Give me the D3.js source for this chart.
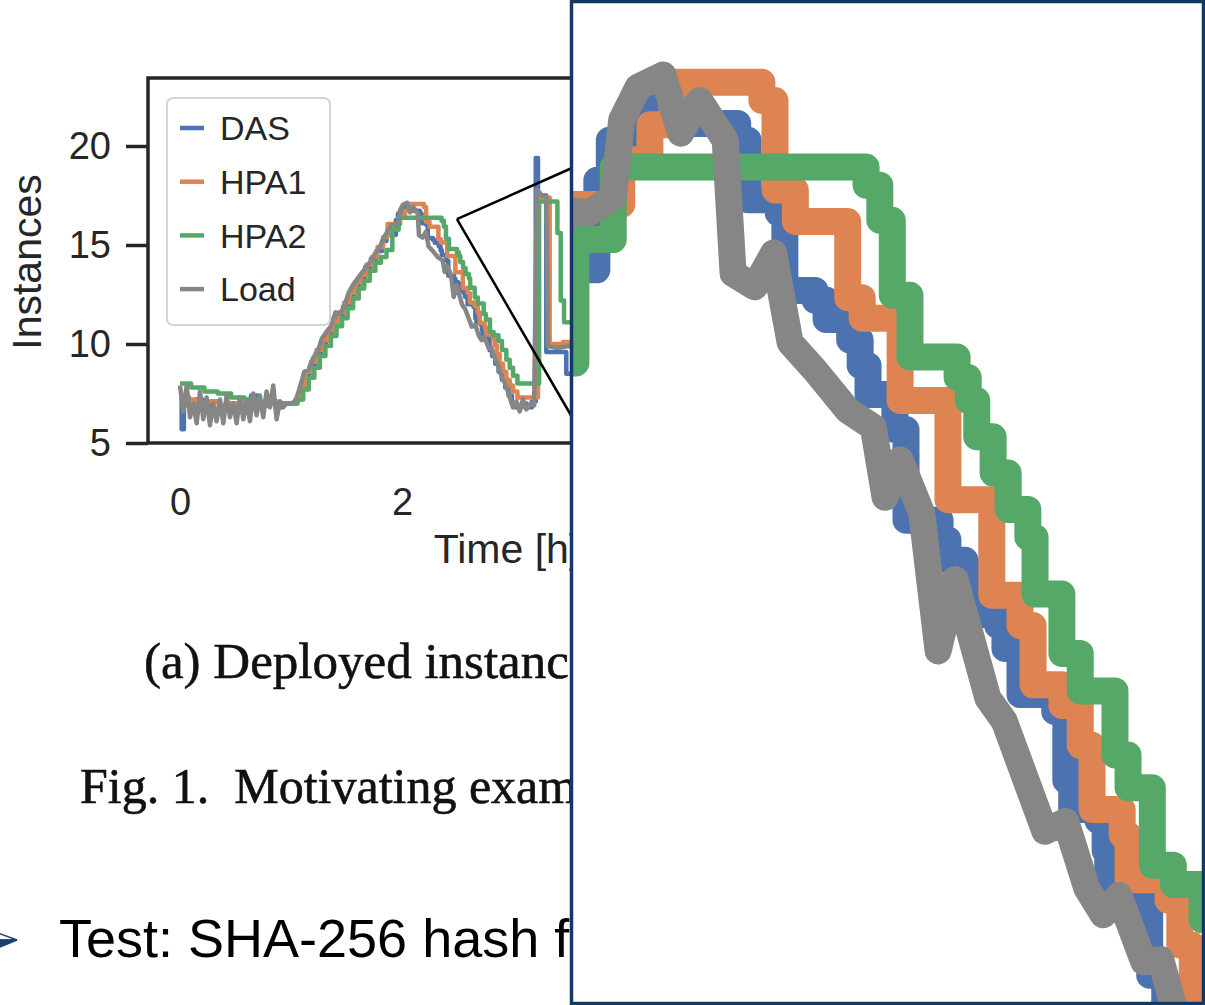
<!DOCTYPE html>
<html>
<head>
<meta charset="utf-8">
<script src="https://cdn.jsdelivr.net/npm/d3@7"></script>
<style>
body { margin: 0; background: #fff; }
svg { display: block; }
</style>
</head>
<body>
<script>
var width = 1205,
    height = 1005;

// series: [time in hours, instances]
var seriesNames = ['DAS', 'HPA1', 'HPA2', 'Load'];
var seriesColors = ['#4c72b0', '#dd8452', '#55a868', '#868686'];
var yTicks = [5, 10, 15, 20];
var xTicks = [0, 2, 4, 6];

var dasData = [
    [0.00, 7.4], [0.015, 5.7], [0.035, 7.3], [0.08, 6.9], [0.14, 7.2], [0.20, 6.8], [0.28, 7.1], [0.36, 6.8],
    [0.44, 7.0], [0.52, 6.7], [0.58, 7.0], [0.64, 7.4], [0.70, 6.9], [0.78, 7.1], [0.86, 6.8], [0.92, 7.0], [1.04, 7.2],
    [1.08, 7.8], [1.12, 8.5], [1.17, 8.9], [1.22, 9.5], [1.27, 10.1], [1.32, 10.6], [1.37, 11.0], [1.42, 11.5],
    [1.47, 11.9], [1.52, 12.5], [1.57, 13.0], [1.62, 13.4], [1.67, 13.9], [1.72, 14.3], [1.77, 14.7], [1.82, 15.2], [1.86, 15.52],
    [1.945, 16.26], [1.964, 16.59], [2.011, 16.88], [2.092, 16.73], [2.160, 16.59], [2.176, 16.10], [2.222, 15.99],
    [2.232, 15.35], [2.278, 15.27], [2.295, 15.11], [2.331, 14.94], [2.347, 14.73], [2.359, 14.49], [2.400, 14.20],
    [2.417, 13.45], [2.469, 13.29], [2.481, 13.12], [2.507, 13.02], [2.530, 12.67], [2.557, 12.58], [2.568, 12.39],
    [2.591, 12.01], [2.644, 11.87], [2.661, 11.30], [2.670, 11.06], [2.710, 10.97], [2.721, 10.72], [2.725, 10.44],
    [2.774, 10.31], [2.789, 9.69], [2.812, 9.40],
    [2.84, 9.0], [2.87, 8.6], [2.90, 8.2], [2.93, 7.8], [2.96, 7.4], [2.99, 7.0], [3.02, 6.8], [3.08, 7.0], [3.12, 6.8],
    [3.17, 7.1], [3.205, 19.4], [3.225, 17.5], [3.30, 9.6], [3.48, 8.5], [3.60, 8.3]
];

var hpa1Data = [
    [0.00, 7.3], [0.03, 6.9], [0.07, 7.2], [0.15, 6.9], [0.25, 7.1], [0.35, 6.9], [0.45, 7.0], [0.60, 7.0],
    [0.75, 7.1], [0.90, 7.0], [1.05, 7.2],
    [1.09, 7.9], [1.13, 8.6], [1.18, 9.1], [1.23, 9.7], [1.28, 10.2], [1.33, 10.7], [1.38, 11.1], [1.43, 11.6],
    [1.48, 12.1], [1.53, 12.6], [1.58, 13.1], [1.63, 13.5], [1.68, 14.0], [1.73, 14.4], [1.78, 14.9], [1.83, 15.4], [1.87, 16.06],
    [1.983, 16.43], [2.026, 16.72], [2.060, 17.07], [2.197, 16.92], [2.217, 16.18], [2.248, 15.92], [2.328, 15.29],
    [2.350, 15.12], [2.408, 14.44], [2.481, 13.62], [2.548, 12.83], [2.591, 12.58], [2.611, 12.09], [2.655, 11.92],
    [2.683, 11.59], [2.701, 11.06], [2.747, 10.85], [2.756, 10.48], [2.817, 10.31], [2.835, 9.94], [2.854, 9.49],
    [2.88, 9.0], [2.91, 8.6], [2.94, 8.2], [2.97, 7.9], [3.00, 7.6], [3.04, 7.3], [3.225, 17.4], [3.33, 10.0],
    [3.45, 10.1], [3.60, 10.0]
];

var hpa2Data = [
    [0.00, 8.0], [0.10, 7.8], [0.22, 7.6], [0.34, 7.5], [0.46, 7.3], [0.58, 7.2], [0.70, 7.0], [1.06, 7.2],
    [1.11, 7.7], [1.16, 8.3], [1.21, 8.8], [1.26, 9.4], [1.31, 9.9], [1.36, 10.4], [1.41, 10.9], [1.46, 11.3],
    [1.51, 11.8], [1.56, 12.3], [1.61, 12.8], [1.66, 13.2], [1.71, 13.7], [1.76, 14.1], [1.81, 14.4], [1.86, 14.75],
    [1.913, 15.77], [1.970, 16.37], [2.356, 16.22], [2.377, 15.93], [2.396, 15.31], [2.423, 14.80], [2.495, 14.63],
    [2.512, 14.44], [2.525, 14.14], [2.550, 13.84], [2.573, 13.54], [2.603, 13.31], [2.614, 12.84], [2.655, 12.35],
    [2.683, 12.04], [2.736, 11.51], [2.756, 11.24], [2.793, 10.60], [2.825, 10.44], [2.869, 10.15],
    [2.90, 9.7], [2.94, 9.2], [2.97, 8.8], [3.00, 8.4], [3.04, 8.0], [3.235, 17.2], [3.40, 15.6], [3.43, 12.2],
    [3.46, 11.1], [3.60, 10.9]
];

var loadData = [
    [0.00, 7.9], [0.03, 6.6], [0.06, 7.9], [0.09, 6.3], [0.12, 7.0], [0.15, 6.0], [0.18, 7.6], [0.21, 6.2],
    [0.24, 7.3], [0.27, 5.9], [0.30, 7.0], [0.33, 6.1], [0.36, 7.2], [0.39, 6.0], [0.42, 7.4], [0.45, 6.3],
    [0.48, 7.0], [0.51, 6.0], [0.54, 7.3], [0.57, 6.2], [0.60, 7.1], [0.63, 6.1], [0.66, 7.5], [0.69, 6.4],
    [0.72, 7.4], [0.75, 6.3], [0.78, 7.6], [0.81, 6.8], [0.84, 7.9], [0.87, 6.2], [0.90, 7.1], [0.93, 6.8],
    [0.96, 7.0], [1.00, 7.0], [1.04, 7.1],
    [1.08, 7.8], [1.12, 8.6], [1.16, 8.7], [1.20, 9.3], [1.24, 9.6], [1.28, 10.3], [1.32, 10.6], [1.36, 10.9],
    [1.40, 11.6], [1.44, 11.5], [1.48, 11.9], [1.52, 12.6], [1.56, 13.0], [1.60, 13.3], [1.64, 13.6], [1.68, 13.9],
    [1.72, 14.2], [1.76, 14.6], [1.80, 14.9], [1.84, 15.4], [1.88, 15.8],
    [1.907, 16.01], [1.933, 15.99], [1.970, 16.12], [1.983, 16.76], [2.008, 17.03], [2.046, 17.13], [2.073, 16.65],
    [2.102, 16.92], [2.141, 16.59], [2.153, 15.49], [2.186, 15.38], [2.215, 15.66], [2.240, 14.92], [2.278, 14.69],
    [2.328, 14.36], [2.367, 14.22], [2.385, 13.64], [2.408, 13.95], [2.441, 13.51], [2.466, 12.37], [2.492, 12.96],
    [2.542, 11.98], [2.567, 11.79], [2.629, 10.88], [2.661, 10.96], [2.693, 10.41], [2.718, 10.19], [2.742, 10.35],
    [2.780, 9.80], [2.806, 9.82], [2.825, 9.44],
    [2.86, 9.0], [2.90, 8.3], [2.93, 8.0], [2.96, 7.5], [3.00, 6.8], [3.03, 7.1], [3.06, 6.6], [3.09, 7.2],
    [3.12, 6.7], [3.16, 7.0], [3.19, 6.9], [3.215, 17.8], [3.26, 17.5], [3.30, 17.4], [3.315, 9.9], [3.40, 9.8],
    [3.50, 9.9], [3.60, 9.8]
];

var seriesData = [dasData, hpa1Data, hpa2Data, loadData];
// the scaler series are step-like, the load trace is a plain polyline
var seriesCurves = [d3.curveStepAfter, d3.curveStepAfter, d3.curveStepAfter, d3.curveLinear];

// where the callout points on the main chart, in data units
var callout = [2.495, 16.31];

var svg = d3.select('body').append('svg')
    .attr('width', width)
    .attr('height', height)
    .style('font-family', '"Liberation Sans", Arial, sans-serif');

var defs = svg.append('defs');

// ---------- main chart ----------
var plot = {left: 148, right: 866, top: 78, bottom: 443};

var x = d3.scaleLinear()
    .domain([(plot.left - 180) / 111, (plot.right - 180) / 111])
    .range([plot.left, plot.right]);

var y = d3.scaleLinear()
    .domain([5, 5 + (plot.bottom - plot.top) / 19.8])
    .range([plot.bottom, plot.top]);

defs.append('clipPath').attr('id', 'plotClip')
    .append('rect')
    .attr('x', plot.left).attr('y', plot.top)
    .attr('width', plot.right - plot.left).attr('height', plot.bottom - plot.top);

var main = svg.append('g');

var yAxis = main.append('g')
    .attr('transform', 'translate(' + plot.left + ',0)')
    .call(d3.axisLeft(y).tickValues(yTicks).tickSize(22).tickPadding(15));
yAxis.select('.domain').remove();
yAxis.selectAll('.tick line').attr('stroke', '#262626').attr('stroke-width', 3.5);
yAxis.selectAll('.tick text')
    .attr('fill', '#262626')
    .style('font-size', '38px')
    .style('font-family', '"Liberation Sans", Arial, sans-serif');

var xAxis = main.append('g')
    .attr('transform', 'translate(0,' + plot.bottom + ')')
    .call(d3.axisBottom(x).tickValues(xTicks).tickFormat(d3.format('d')).tickSize(0).tickPadding(45));
xAxis.select('.domain').remove();
xAxis.selectAll('.tick text')
    .attr('fill', '#262626')
    .style('font-size', '38px')
    .style('font-family', '"Liberation Sans", Arial, sans-serif');

main.append('text')
    .attr('transform', 'translate(41,262) rotate(-90)')
    .attr('text-anchor', 'middle')
    .attr('fill', '#262626')
    .style('font-size', '41px')
    .text('Instances');

main.append('text')
    .attr('x', (plot.left + plot.right) / 2)
    .attr('y', 563)
    .attr('text-anchor', 'middle')
    .attr('fill', '#262626')
    .style('font-size', '41px')
    .text('Time [h]');

var lines = main.append('g').attr('clip-path', 'url(#plotClip)');

seriesData.forEach(function(data, i) {
    var line = d3.line()
        .x(function(d) { return x(d[0]); })
        .y(function(d) { return y(d[1]); })
        .curve(seriesCurves[i]);
    lines.append('path')
        .datum(data)
        .attr('d', line)
        .attr('fill', 'none')
        .attr('stroke', seriesColors[i])
        .attr('stroke-width', 4.5)
        .attr('stroke-linejoin', 'round');
});

main.append('rect')
    .attr('x', plot.left).attr('y', plot.top)
    .attr('width', plot.right - plot.left).attr('height', plot.bottom - plot.top)
    .attr('fill', 'none')
    .attr('stroke', '#262626')
    .attr('stroke-width', 3.5);

// legend
var legend = main.append('g');
legend.append('rect')
    .attr('x', 167).attr('y', 98)
    .attr('width', 163).attr('height', 227)
    .attr('rx', 6)
    .attr('fill', '#fff').attr('fill-opacity', 0.85)
    .attr('stroke', '#d4d4d4').attr('stroke-width', 2);

var legendItem = legend.selectAll('g.item')
    .data(seriesNames)
    .enter().append('g')
    .attr('class', 'item')
    .attr('transform', function(d, i) { return 'translate(0,' + (128 + i * 53.7) + ')'; });

legendItem.append('line')
    .attr('x1', 180).attr('x2', 204)
    .attr('stroke', function(d, i) { return seriesColors[i]; })
    .attr('stroke-width', 4.5);

legendItem.append('text')
    .attr('x', 220)
    .attr('dy', '0.36em')
    .attr('fill', '#262626')
    .style('font-size', '34px')
    .text(function(d) { return d; });

// ---------- captions ----------
svg.append('text')
    .attr('x', 144).attr('y', 678)
    .attr('fill', '#111')
    .style('font-family', '"Liberation Serif", "Times New Roman", serif')
    .style('font-size', '51px')
    .style('stroke', '#111').style('stroke-width', 0.6)
    .text('(a) Deployed instances');

svg.append('text')
    .attr('x', 80).attr('y', 803)
    .attr('fill', '#111')
    .style('font-family', '"Liberation Serif", "Times New Roman", serif')
    .style('font-size', '50px')
    .style('stroke', '#111').style('stroke-width', 0.6)
    .style('white-space', 'pre')
    .text('Fig. 1.  Motivating example');

// bullet line
var bullet = svg.append('g');
bullet.append('path')
    .attr('d', 'M-10,930 L17,940 L-2,940 Z')
    .attr('fill', '#fff').attr('stroke', '#1f3f73').attr('stroke-width', 1.5);
bullet.append('path')
    .attr('d', 'M-2,940 L17,940 L-10,951 Z')
    .attr('fill', '#1f3f73').attr('stroke', '#1f3f73').attr('stroke-width', 1.5);

svg.append('text')
    .attr('x', 59).attr('y', 957)
    .attr('fill', '#000')
    .style('font-size', '54px')
    .text('Test: SHA-256 hash function');

// ---------- zoom inset ----------
var inset = {left: 570, right: 1205, top: 0, bottom: 1005};

var ix = d3.scaleLinear()
    .domain([1.904, 1.904 + (inset.right - inset.left) / 655])
    .range([inset.left, inset.right]);

var iy = d3.scaleLinear()
    .domain([17.75, 17.75 - (inset.bottom - inset.top) / 121])
    .range([inset.top, inset.bottom]);

// callout lines from the main chart to the inset edge
var cx = x(callout[0]), cy = y(callout[1]);
[168, 417].forEach(function(ey) {
    svg.append('line')
        .attr('x1', cx).attr('y1', cy)
        .attr('x2', inset.left + 2).attr('y2', ey)
        .attr('stroke', '#000')
        .attr('stroke-width', 2.5);
});

defs.append('clipPath').attr('id', 'insetClip')
    .append('rect')
    .attr('x', inset.left).attr('y', inset.top)
    .attr('width', inset.right - inset.left).attr('height', inset.bottom - inset.top);

var zoomG = svg.append('g');
zoomG.append('rect')
    .attr('x', inset.left).attr('y', inset.top)
    .attr('width', inset.right - inset.left).attr('height', inset.bottom - inset.top)
    .attr('fill', '#fff');

var zoomLines = zoomG.append('g').attr('clip-path', 'url(#insetClip)');

seriesData.forEach(function(data, i) {
    var line = d3.line()
        .x(function(d) { return ix(d[0]); })
        .y(function(d) { return iy(d[1]); })
        .curve(seriesCurves[i]);
    zoomLines.append('path')
        .datum(data)
        .attr('d', line)
        .attr('fill', 'none')
        .attr('stroke', seriesColors[i])
        .attr('stroke-width', 27)
        .attr('stroke-linejoin', 'round')
        .attr('stroke-linecap', 'round');
});

zoomG.append('rect')
    .attr('x', inset.left + 1.5).attr('y', inset.top + 1.5)
    .attr('width', inset.right - inset.left - 3).attr('height', inset.bottom - inset.top - 3)
    .attr('fill', 'none')
    .attr('stroke', '#143866')
    .attr('stroke-width', 3.5);
</script>
</body>
</html>
